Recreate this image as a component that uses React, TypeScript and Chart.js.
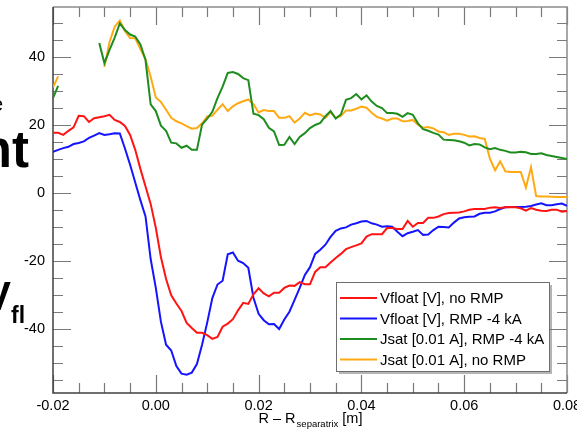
import React, { useEffect, useRef } from "react";
import { Chart, registerables } from "chart.js";

Chart.register(...registerables);

const FONT = "'Liberation Sans', Arial, Helvetica, sans-serif";

// R - R_separatrix [m]
const R_M = [
  -0.02, -0.019, -0.018, -0.017, -0.016, -0.015, -0.014, -0.013, -0.012, -0.011,
  -0.01, -0.009, -0.008, -0.007, -0.006, -0.005, -0.004, -0.003, -0.002, -0.001,
  0.0, 0.001, 0.002, 0.003, 0.004, 0.005, 0.006, 0.007, 0.008, 0.009,
  0.01, 0.011, 0.012, 0.013, 0.014, 0.015, 0.016, 0.017, 0.018, 0.019,
  0.02, 0.021, 0.022, 0.023, 0.024, 0.025, 0.026, 0.027, 0.028, 0.029,
  0.03, 0.031, 0.032, 0.033, 0.034, 0.035, 0.036, 0.037, 0.038, 0.039,
  0.04, 0.041, 0.042, 0.043, 0.044, 0.045, 0.046, 0.047, 0.048, 0.049,
  0.05, 0.051, 0.052, 0.053, 0.054, 0.055, 0.056, 0.057, 0.058, 0.059,
  0.06, 0.061, 0.062, 0.063, 0.064, 0.065, 0.066, 0.067, 0.068, 0.069,
  0.07, 0.071, 0.072, 0.073, 0.074, 0.075, 0.076, 0.077, 0.078, 0.079,
  0.08,
];

const VFLOAT_NO_RMP = [
  17.6, 17.6, 17.0, 18.2, 19.2, 22.6, 22.5, 20.8, 21.9, 22.2,
  22.5, 22.9, 21.4, 20.8, 19.6, 17.0, 12.6, 7.0, 1.8, -3.3,
  -10.3, -19.0, -25.4, -30.2, -32.6, -34.8, -38.3, -39.8, -41.2, -41.2,
  -41.9, -43.0, -42.4, -39.4, -38.5, -37.2, -34.6, -32.4, -32.7, -29.9,
  -28.1, -29.6, -30.5, -29.4, -29.4, -28.0, -27.3, -27.4, -26.3, -26.9,
  -26.9, -23.3, -21.9, -21.9, -20.5, -19.2, -18.0, -16.6, -16.0, -15.5,
  -14.9, -12.9, -12.2, -12.2, -12.2, -10.4, -10.4, -10.7, -10.7, -8.3,
  -10.0, -8.9, -8.9, -7.4, -7.4, -7.0, -6.3, -6.0, -5.9, -5.8,
  -5.5, -5.0, -4.8, -4.8, -4.8, -4.4, -4.3, -4.5, -4.3, -4.2,
  -4.3, -4.6, -5.3, -4.5, -5.0, -5.3, -5.4, -5.0, -5.0, -5.6,
  -5.4,
];

const VFLOAT_RMP = [
  12.0, 12.6, 13.1, 13.5, 14.3, 14.6, 15.1, 16.1, 16.8, 17.5,
  17.0, 17.2, 17.5, 17.4, 13.0, 8.2, 3.0, -2.2, -7.0, -19.5,
  -28.0, -38.0, -44.7, -46.4, -51.0, -53.2, -53.5, -52.9, -50.4, -44.7,
  -38.2, -31.0, -27.0, -25.9, -18.1, -17.6, -20.0, -20.7, -22.1, -30.9,
  -35.6, -37.5, -38.7, -38.6, -40.1, -37.3, -35.0, -31.5, -28.0, -24.2,
  -21.9, -18.0, -16.8, -15.3, -13.0, -11.2, -10.5, -10.2, -9.4, -9.0,
  -8.5, -8.3, -9.0, -9.4, -10.0, -9.9, -10.0, -11.5, -12.8, -11.9,
  -11.5, -11.0, -12.4, -12.3, -11.0, -10.0, -10.1, -10.2, -8.8, -7.6,
  -7.2, -7.1, -7.0, -6.2, -5.9, -5.9, -5.5, -4.8, -4.3, -4.2,
  -4.2, -4.2, -4.1, -3.9, -3.5, -3.1, -3.7, -3.7, -3.4, -3.2,
  -3.9,
];

const JSAT_RMP = [
  27.8, 31.4, null, null, null, null, null, null, null, 44.0,
  38.1, 42.0, 45.6, 49.8, 47.8, 46.5, 45.9, 43.6, 39.0, 26.0,
  24.0, 19.7, 18.2, 14.7, 14.5, 13.2, 13.8, 12.6, 12.6, 20.0,
  21.8, 23.8, 27.8, 31.2, 35.2, 35.5, 34.9, 33.7, 33.1, 23.2,
  22.8, 21.6, 19.1, 18.0, 14.0, 14.1, 16.4, 14.3, 16.4, 17.5,
  19.0, 19.9, 20.5, 22.5, 24.0, 21.8, 23.0, 27.3, 27.8, 29.0,
  27.4, 28.6, 26.8, 25.5, 24.9, 23.4, 23.4, 23.2, 22.3, 23.4,
  22.9, 20.4, 18.7, 18.2, 17.6, 17.1, 15.6, 15.5, 15.4, 15.1,
  14.7, 13.9, 14.3, 14.2, 13.3, 12.8, 13.1, 12.6, 12.3, 11.8,
  11.8, 12.0, 11.9, 11.4, 11.4, 11.6, 11.1, 10.8, 10.5, 10.2,
  9.9,
];

const JSAT_NO_RMP = [
  31.0, 34.2, null, null, null, null, null, null, null, null,
  37.0, 44.3, 48.8, 50.6, 47.5, 45.5, 45.4, 42.2, 39.3, 34.1,
  28.0, 26.7, 24.4, 22.0, 21.0, 20.4, 19.6, 18.8, 19.0, 20.4,
  22.4, 22.6, 24.4, 26.0, 24.0, 25.4, 26.3, 26.9, 27.4, 26.0,
  23.6, 24.3, 24.0, 24.0, 22.0, 22.0, 22.5, 20.6, 21.8, 23.5,
  22.7, 23.3, 23.0, 22.0, 23.7, 22.0, 22.5, 24.2, 24.2, 24.7,
  25.3, 25.0, 23.5, 22.3, 21.8, 21.2, 21.8, 21.8, 21.0, 21.1,
  21.4, 20.0, 19.1, 19.3, 18.9, 18.0, 17.8, 17.0, 17.3, 17.3,
  17.0, 16.5, 16.6, 16.1, 15.8, 10.0, 6.6, 9.2, 6.3, 6.1,
  6.1, 6.1, 1.5, 7.5, -1.0, -1.1, -1.1, -1.2, -1.3, -1.3,
  -1.3,
];

const SERIES_NAMES = [
  "Vfloat [V], no RMP",
  "Vfloat [V], RMP -4 kA",
  "Jsat [0.01 A], RMP -4 kA",
  "Jsat [0.01 A], no RMP",
];
const SERIES_COLORS = ["#ff1414", "#1414ff", "#1f8c1f", "#ffaa14"];

const X_TICKS = [-0.02, 0.0, 0.02, 0.04, 0.06, 0.08];
const X_LABELS = ["-0.02", "0.00", "0.02", "0.04", "0.06", "0.08"];
const Y_TICKS = [-40, -20, 0, 20, 40];
const Y_LABELS = ["-40", "-20", "0", "20", "40"];

const framePlugin = {
  id: "frameTicks",
  beforeDatasetsDraw(chart: any) {
    const { ctx, chartArea: a, scales } = chart;
    const xs = scales.x;
    const ys = scales.y;
    ctx.save();
    ctx.lineWidth = 1.2;
    ctx.strokeStyle = "#7a7a7a";
    // x ticks (minor every 0.005, major every 0.02)
    for (let i = 0; i <= 20; i++) {
      const v = -0.02 + i * 0.005;
      const p = Math.round(xs.getPixelForValue(v)) + 0.5;
      const len = i % 4 === 0 ? 18 : 10;
      ctx.beginPath();
      ctx.moveTo(p, a.bottom);
      ctx.lineTo(p, a.bottom - len);
      ctx.moveTo(p, a.top);
      ctx.lineTo(p, a.top + len);
      ctx.stroke();
    }
    // y ticks (minor every 5, major every 20)
    for (let v = -55; v <= 50; v += 5) {
      const p = Math.round(ys.getPixelForValue(v)) + 0.5;
      const len = v % 20 === 0 ? 18 : 10;
      ctx.beginPath();
      ctx.moveTo(a.left, p);
      ctx.lineTo(a.left + len, p);
      ctx.moveTo(a.right, p);
      ctx.lineTo(a.right - len, p);
      ctx.stroke();
    }
    // frame
    ctx.lineWidth = 1.5;
    ctx.strokeStyle = "#8c8c8c";
    ctx.beginPath();
    ctx.moveTo(a.left, a.top);
    ctx.lineTo(a.right, a.top);
    ctx.lineTo(a.right, a.bottom);
    ctx.stroke();
    ctx.strokeStyle = "#404040";
    ctx.beginPath();
    ctx.moveTo(a.left, a.top);
    ctx.lineTo(a.left, a.bottom);
    ctx.lineTo(a.right, a.bottom);
    ctx.stroke();
    ctx.restore();
  },
  afterDraw(chart: any) {
    const { ctx, chartArea: a } = chart;
    ctx.save();
    // legend box
    const bx = a.right - 231;
    const by = a.bottom - 111;
    const bw = 213;
    const bh = 89;
    ctx.fillStyle = "rgba(120,120,120,0.55)";
    ctx.fillRect(bx + 3, by + 3, bw, bh);
    ctx.fillStyle = "#ffffff";
    ctx.fillRect(bx, by, bw, bh);
    ctx.strokeStyle = "#6e6e6e";
    ctx.lineWidth = 1;
    ctx.strokeRect(bx + 0.5, by + 0.5, bw, bh);
    ctx.font = `15px ${FONT}`;
    ctx.textAlign = "left";
    ctx.textBaseline = "middle";
    for (let i = 0; i < SERIES_NAMES.length; i++) {
      const yy = by + 16 + i * 20.5;
      ctx.strokeStyle = SERIES_COLORS[i];
      ctx.lineWidth = 2;
      ctx.beginPath();
      ctx.moveTo(bx + 4, yy);
      ctx.lineTo(bx + 41, yy);
      ctx.stroke();
      ctx.fillStyle = "#000";
      ctx.fillText(SERIES_NAMES[i], bx + 44, yy + 1);
    }
    // x-axis title with subscript
    const cx = (a.left + a.right) / 2;
    const base = 423;
    const t1 = "R \u2013 R";
    const t2 = "separatrix";
    const t3 = " [m]";
    ctx.textBaseline = "alphabetic";
    ctx.font = `14.5px ${FONT}`;
    const w1 = ctx.measureText(t1).width;
    const w3 = ctx.measureText(t3).width;
    ctx.font = `9.5px ${FONT}`;
    const w2 = ctx.measureText(t2).width;
    let sx = cx - (w1 + w2 + w3) / 2;
    ctx.fillStyle = "#000";
    ctx.font = `14.5px ${FONT}`;
    ctx.fillText(t1, sx, base);
    sx += w1 + 1;
    ctx.font = `9.5px ${FONT}`;
    ctx.fillText(t2, sx, base + 4);
    sx += w2;
    ctx.font = `14.5px ${FONT}`;
    ctx.fillText(t3, sx, base);
    // fragments of overlapping slide text at the left edge
    ctx.fillStyle = "#000";
    ctx.textAlign = "right";
    ctx.font = `20px ${FONT}`;
    ctx.fillText("e", 3, 111);
    ctx.font = `bold 51px ${FONT}`;
    ctx.fillText("nt", 29, 167);
    ctx.font = `bold 40px ${FONT}`;
    ctx.fillText("V", 11, 310);
    ctx.textAlign = "left";
    ctx.font = `bold 23px ${FONT}`;
    ctx.fillText("fl", 11, 323);
    ctx.restore();
  },
};

export default function App() {
  const ref = useRef<HTMLCanvasElement | null>(null);

  useEffect(() => {
    if (!ref.current) return;
    const series = [VFLOAT_NO_RMP, VFLOAT_RMP, JSAT_RMP, JSAT_NO_RMP];
    const chart = new Chart(ref.current, {
      type: "line",
      data: {
        datasets: series.map((s, i) => ({
          label: SERIES_NAMES[i],
          data: R_M.map((x, j) => ({ x, y: s[j] })),
          borderColor: SERIES_COLORS[i],
          backgroundColor: SERIES_COLORS[i],
          borderWidth: 2,
          pointRadius: 0,
          tension: 0,
          spanGaps: false,
          fill: false,
        })),
      } as any,
      options: {
        animation: false,
        responsive: true,
        maintainAspectRatio: false,
        layout: { padding: { top: 7, right: 10, left: 0, bottom: 0 } },
        plugins: {
          legend: { display: false },
          tooltip: { enabled: false },
        },
        scales: {
          x: {
            type: "linear",
            min: -0.02,
            max: 0.08,
            grid: { display: false, drawTicks: false },
            border: { display: false },
            ticks: {
              padding: 4,
              color: "#000",
              font: { size: 14.5, family: FONT },
              maxRotation: 0,
              autoSkip: false,
              callback: (_v: any, i: number) => X_LABELS[i],
            },
            afterBuildTicks: (s: any) => {
              s.ticks = X_TICKS.map((v) => ({ value: v }));
            },
            afterFit: (s: any) => {
              s.height = 36;
              s.paddingLeft = 0;
              s.paddingRight = 0;
            },
          },
          y: {
            type: "linear",
            min: -58.9,
            max: 54.6,
            grid: { display: false, drawTicks: false },
            border: { display: false },
            ticks: {
              padding: 8,
              color: "#000",
              font: { size: 14.5, family: FONT },
              autoSkip: false,
              callback: (_v: any, i: number) => Y_LABELS[i],
            },
            afterBuildTicks: (s: any) => {
              s.ticks = Y_TICKS.map((v) => ({ value: v }));
            },
            afterFit: (s: any) => {
              s.width = 53;
              s.paddingTop = 0;
              s.paddingBottom = 0;
            },
          },
        },
      } as any,
      plugins: [framePlugin],
    });
    return () => chart.destroy();
  }, []);

  return (
    <div
      style={{
        position: "fixed",
        left: 0,
        top: 0,
        width: 577,
        height: 429,
        background: "#ffffff",
      }}
    >
      <canvas ref={ref} />
    </div>
  );
}
